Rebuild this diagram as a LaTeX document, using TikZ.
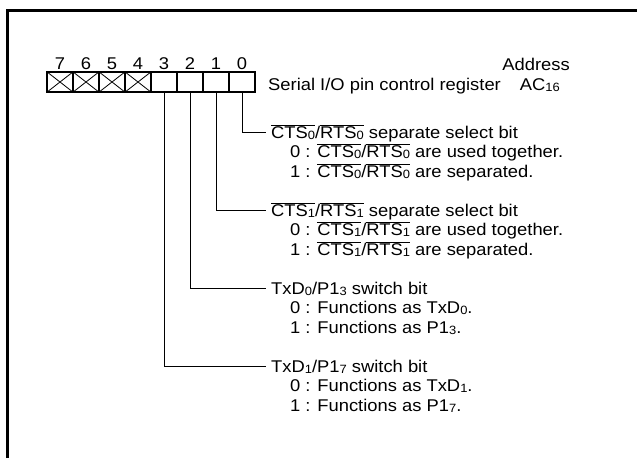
\documentclass[tikz,border=0pt]{standalone}
\usepackage{fontspec}
\setmainfont{Liberation Sans}[FakeStretch=1.08]
\usepackage{tikz}

\newcommand\sbs[1]{\raisebox{-1pt}{\fontsize{12}{12}\selectfont #1}}
\newcommand\ovl[1]{$\overline{\mbox{#1}}$}

\begin{document}
\fontsize{17}{19.5}\selectfont
\begin{tikzpicture}[x=1pt, y=-1pt,
    bitbox/.style={draw, line width=1.1pt, minimum width=26pt, minimum height=20pt, inner sep=0pt},
    head/.style={anchor=base west, inner sep=0pt, text height=11pt, text depth=0pt},
    txt/.style={anchor=base west, inner sep=0pt},
    leader/.style={line width=0.9pt}]
  \useasboundingbox (0,0) rectangle (637,458);
  % Frame
  \draw[line width=3pt] (7,458) -- (7,10) -- (637,10);

  % Register bits
  \foreach \i in {0,...,7} {
    \node[bitbox] (b\i) at ({242-26*\i},82) {};
    \node[txt, anchor=base] (n\i) at ({242-26*\i},69) {\i};
  }
  \foreach \i in {4,...,7}
    \draw[line width=0.8pt] (b\i.north west) -- (b\i.south east) (b\i.south west) -- (b\i.north east);

  % Register name and address
  \node[txt, anchor=base east] (addr) at (570,70) {Address};
  \node[txt] (reg) at (268,90) {Serial I/O pin control register};
  \node[txt, anchor=base east] (ac) at (560,90) {AC\sbs{16}};

  % Bit 0
  \node[head] (h0) at (271,138) {\ovl{CTS\sbs0}/\ovl{RTS\sbs0} separate select bit};
  \node[txt] (z0) at (290,157.5) {0 : \ovl{CTS\sbs0}/\ovl{RTS\sbs0} are used together.};
  \node[txt] (o0) at (290,177) {1 : \ovl{CTS\sbs0}/\ovl{RTS\sbs0} are separated.};
  % Bit 1
  \node[head] (h1) at (271,216) {\ovl{CTS\sbs1}/\ovl{RTS\sbs1} separate select bit};
  \node[txt] (z1) at (290,235.5) {0 : \ovl{CTS\sbs1}/\ovl{RTS\sbs1} are used together.};
  \node[txt] (o1) at (290,255) {1 : \ovl{CTS\sbs1}/\ovl{RTS\sbs1} are separated.};
  % Bit 2
  \node[head] (h2) at (271,294) {TxD\sbs0/P1\sbs3 switch bit};
  \node[txt] (z2) at (290,313.5) {0 : Functions as TxD\sbs0.};
  \node[txt] (o2) at (290,333) {1 : Functions as P1\sbs3.};
  % Bit 3
  \node[head] (h3) at (271,372) {TxD\sbs1/P1\sbs7 switch bit};
  \node[txt] (z3) at (290,391.5) {0 : Functions as TxD\sbs1.};
  \node[txt] (o3) at (290,411) {1 : Functions as P1\sbs7.};

  % Leaders
  \foreach \i in {0,...,3}
    \draw[leader] (b\i.south) |- ([xshift=-5pt]h\i.west);
\end{tikzpicture}
\end{document}
